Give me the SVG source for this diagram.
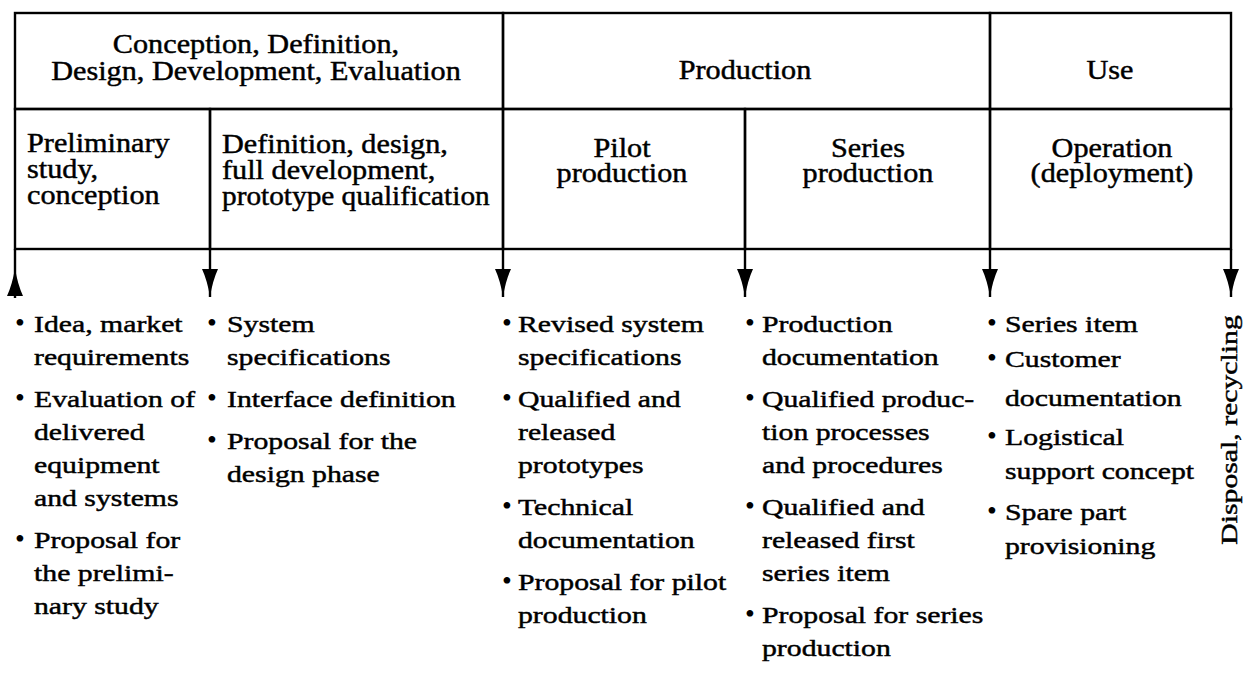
<svg xmlns="http://www.w3.org/2000/svg" width="1247" height="677" viewBox="0 0 1247 677">
  <style>
    .cell { fill: none; stroke: #000; stroke-width: 2.4; }
    .conn { fill: none; stroke: #000; stroke-width: 2.4; }
    text { font-family: "Liberation Serif", "Times New Roman", serif; fill: #000; }
    .hd { font-size: 27px; stroke: #000; stroke-width: 0.45; }
    .bd { font-size: 24px; stroke: #000; stroke-width: 0.45; }
    .bul { font-size: 28px; text-anchor: middle; }
    .mid { text-anchor: middle; }
  </style>
  <defs>
    <marker id="ah" markerUnits="userSpaceOnUse" viewBox="0 0 28 16" refX="28" refY="8" markerWidth="28" markerHeight="16" orient="auto">
      <path d="M0,0 Q12,5.5 28,8 Q12,10.5 0,16 Z" fill="#000"/>
    </marker>
  </defs>

  <rect width="1247" height="677" fill="#fff"/>

  <!-- phase headers -->
  <g id="phase-concept">
    <rect class="cell" x="15" y="13" width="488" height="96"/>
    <g transform="translate(256 0) scale(1.12 1)">
      <text class="hd mid" x="0" y="53">Conception, Definition,</text>
      <text class="hd mid" x="0" y="80">Design, Development, Evaluation</text>
    </g>
  </g>
  <g id="phase-production">
    <rect class="cell" x="503" y="13" width="487" height="96"/>
    <g transform="translate(745 0) scale(1.12 1)">
      <text class="hd mid" x="0" y="79">Production</text>
    </g>
  </g>
  <g id="phase-use">
    <rect class="cell" x="990" y="13" width="241" height="96"/>
    <g transform="translate(1110 0) scale(1.12 1)">
      <text class="hd mid" x="0" y="79">Use</text>
    </g>
  </g>

  <!-- sub-phases -->
  <g id="sub-preliminary">
    <rect class="cell" x="15" y="109" width="195" height="140"/>
    <g transform="translate(27 0) scale(1.12 1)">
      <text class="hd" x="0" y="152">Preliminary</text>
      <text class="hd" x="0" y="178">study,</text>
      <text class="hd" x="0" y="204">conception</text>
    </g>
  </g>
  <g id="sub-definition">
    <rect class="cell" x="210" y="109" width="293" height="140"/>
    <g transform="translate(222 0) scale(1.12 1)">
      <text class="hd" x="0" y="153">Definition, design,</text>
      <text class="hd" x="0" y="179">full development,</text>
      <text class="hd" x="0" y="205" textLength="239" lengthAdjust="spacingAndGlyphs">prototype qualification</text>
    </g>
  </g>
  <g id="sub-pilot">
    <rect class="cell" x="503" y="109" width="242" height="140"/>
    <g transform="translate(622 0) scale(1.12 1)">
      <text class="hd mid" x="0" y="157">Pilot</text>
      <text class="hd mid" x="0" y="182">production</text>
    </g>
  </g>
  <g id="sub-series">
    <rect class="cell" x="745" y="109" width="245" height="140"/>
    <g transform="translate(868 0) scale(1.12 1)">
      <text class="hd mid" x="0" y="157">Series</text>
      <text class="hd mid" x="0" y="182">production</text>
    </g>
  </g>
  <g id="sub-operation">
    <rect class="cell" x="990" y="109" width="241" height="140"/>
    <g transform="translate(1112 0) scale(1.12 1)">
      <text class="hd mid" x="0" y="157">Operation</text>
      <text class="hd mid" x="0" y="182">(deployment)</text>
    </g>
  </g>

  <!-- connectors from the phases to their outputs -->
  <g id="connectors">
    <path class="conn" d="M15,249 V268"/>
    <path class="conn" d="M15,298 V268" marker-end="url(#ah)"/>
    <path class="conn" d="M210,249 V297" marker-end="url(#ah)"/>
    <path class="conn" d="M503,249 V297" marker-end="url(#ah)"/>
    <path class="conn" d="M745,249 V297" marker-end="url(#ah)"/>
    <path class="conn" d="M990,249 V297" marker-end="url(#ah)"/>
    <path class="conn" d="M1231,249 V297" marker-end="url(#ah)"/>
  </g>

  <!-- outputs of each phase -->
  <g id="out-preliminary">
    <text class="bul" x="20" y="332">•</text>
    <text class="bul" x="20" y="407">•</text>
    <text class="bul" x="20" y="548">•</text>
    <g transform="translate(34 0) scale(1.24 1)">
      <text class="bd" x="0" y="332">Idea, market</text>
      <text class="bd" x="0" y="365">requirements</text>
      <text class="bd" x="0" y="407">Evaluation of</text>
      <text class="bd" x="0" y="440">delivered</text>
      <text class="bd" x="0" y="473">equipment</text>
      <text class="bd" x="0" y="506">and systems</text>
      <text class="bd" x="0" y="548">Proposal for</text>
      <text class="bd" x="0" y="581">the prelimi-</text>
      <text class="bd" x="0" y="614">nary study</text>
    </g>
  </g>

  <g id="out-definition">
    <text class="bul" x="212" y="332">•</text>
    <text class="bul" x="212" y="407">•</text>
    <text class="bul" x="212" y="449">•</text>
    <g transform="translate(227 0) scale(1.24 1)">
      <text class="bd" x="0" y="332">System</text>
      <text class="bd" x="0" y="365">specifications</text>
      <text class="bd" x="0" y="407">Interface definition</text>
      <text class="bd" x="0" y="449">Proposal for the</text>
      <text class="bd" x="0" y="482">design phase</text>
    </g>
  </g>

  <g id="out-pilot">
    <text class="bul" x="507" y="332">•</text>
    <text class="bul" x="507" y="407">•</text>
    <text class="bul" x="507" y="515">•</text>
    <text class="bul" x="507" y="590">•</text>
    <g transform="translate(518 0) scale(1.24 1)">
      <text class="bd" x="0" y="332">Revised system</text>
      <text class="bd" x="0" y="365">specifications</text>
      <text class="bd" x="0" y="407">Qualified and</text>
      <text class="bd" x="0" y="440">released</text>
      <text class="bd" x="0" y="473">prototypes</text>
      <text class="bd" x="0" y="515">Technical</text>
      <text class="bd" x="0" y="548">documentation</text>
      <text class="bd" x="0" y="590">Proposal for pilot</text>
      <text class="bd" x="0" y="623">production</text>
    </g>
  </g>

  <g id="out-series">
    <text class="bul" x="750" y="332">•</text>
    <text class="bul" x="750" y="407">•</text>
    <text class="bul" x="750" y="515">•</text>
    <text class="bul" x="750" y="623">•</text>
    <g transform="translate(762 0) scale(1.24 1)">
      <text class="bd" x="0" y="332">Production</text>
      <text class="bd" x="0" y="365">documentation</text>
      <text class="bd" x="0" y="407">Qualified produc-</text>
      <text class="bd" x="0" y="440">tion processes</text>
      <text class="bd" x="0" y="473">and procedures</text>
      <text class="bd" x="0" y="515">Qualified and</text>
      <text class="bd" x="0" y="548">released first</text>
      <text class="bd" x="0" y="581">series item</text>
      <text class="bd" x="0" y="623">Proposal for series</text>
      <text class="bd" x="0" y="656">production</text>
    </g>
  </g>

  <g id="out-operation">
    <text class="bul" x="992" y="332">•</text>
    <text class="bul" x="992" y="367">•</text>
    <text class="bul" x="992" y="445">•</text>
    <text class="bul" x="992" y="520">•</text>
    <g transform="translate(1005 0) scale(1.24 1)">
      <text class="bd" x="0" y="332">Series item</text>
      <text class="bd" x="0" y="367">Customer</text>
      <text class="bd" x="0" y="406">documentation</text>
      <text class="bd" x="0" y="445">Logistical</text>
      <text class="bd" x="0" y="479">support concept</text>
      <text class="bd" x="0" y="520">Spare part</text>
      <text class="bd" x="0" y="554">provisioning</text>
    </g>
  </g>

  <g id="out-disposal">
    <text class="bd mid" transform="translate(1237 430) rotate(-90) scale(1.24 1)" x="0" y="0">Disposal, recycling</text>
  </g>
</svg>
